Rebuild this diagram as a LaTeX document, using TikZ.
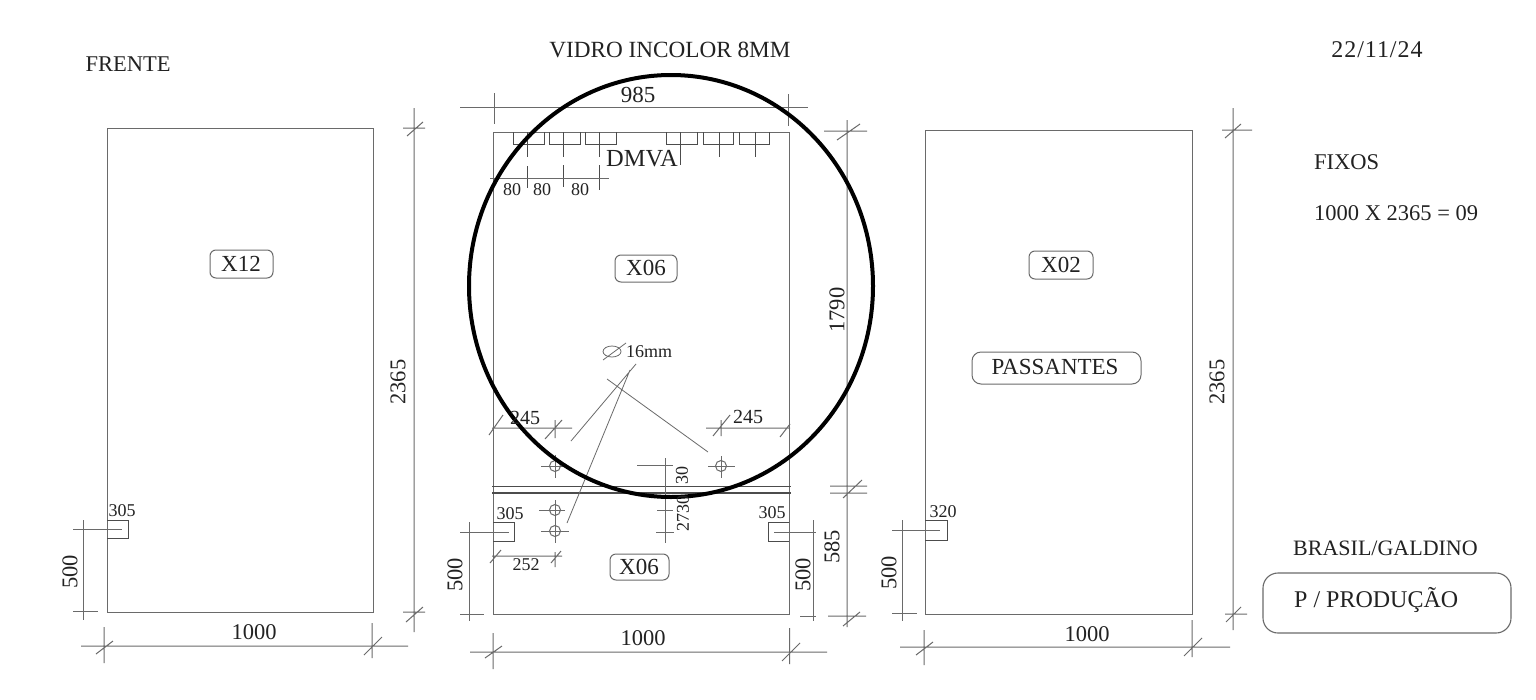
\documentclass[tikz,border=0pt]{standalone}
\usepackage{fontspec}
\setmainfont{Liberation Serif}
\newfontfamily\widefont[LetterSpace=4.0]{Liberation Serif}
\definecolor{ln}{HTML}{6A6A6A}
\definecolor{tx}{HTML}{222222}
\newcommand{\fs}[1]{\fontsize{#1}{#1}\selectfont}
\tikzset{
  x=1pt,y=-1pt,
  ln/.style={draw=ln,line width=1pt},
  thin dim/.style={draw=ln,line width=0.8pt},
  dark/.style={draw=black!70,line width=0.8pt},
  panel/.style={draw=ln,line width=1pt},
  lbl/.style={inner sep=0pt,text=tx,font=\fs{22.5}},
  mid/.style={inner sep=0pt,text=tx,font=\fs{20}},
  sm/.style={inner sep=0pt,text=tx,font=\fs{18}},
  tag/.style={draw=ln,line width=1pt,rounded corners=6pt,fill=white},
}
\begin{document}
\begin{tikzpicture}
\path[use as bounding box,fill=white] (0,0) rectangle (1536,699);
% panels
\draw[panel] (107,128) rectangle (373,612);
\draw[panel] (493,132) rectangle (789,614);
\draw[panel] (925,130) rectangle (1192,614);
% left panel dims
\draw[ln] (414,108)--(414,632) (403,128)--(425,128) (403,612)--(425,612) (407,136)--(423,122) (406,622)--(423,607);
\draw[ln] (81,646)--(408,646) (104,627)--(104,663) (372,623)--(372,658) (96,654)--(113,641) (364,655)--(382,637);
\draw[ln] (83,520)--(83,620) (73,529)--(122,529) (73,611)--(98,611);
\draw[dark] (107,520)--(128,520)--(128,538)--(107,538);
% middle top
\draw[ln] (460,107)--(808,107) (494,93)--(494,124) (788,94)--(788,126);
\draw[dark] (513,132)--(513,144)--(544,144)--(544,132) (549,132)--(549,144)--(580,144)--(580,132) (585,132)--(585,144)--(616,144)--(616,132)
 (666,132)--(666,144)--(697,144)--(697,132) (703,132)--(703,144)--(733,144)--(733,132) (739,132)--(739,144)--(769,144)--(769,132);
\draw[dark] (527,132)--(527,157) (563,132)--(563,157) (599,132)--(599,157) (680,132)--(680,165) (719,132)--(719,157) (755,132)--(755,157);
\draw[dark] (527,166)--(527,188) (563,165)--(563,187) (599,165)--(599,190);
\draw[ln] (490,178)--(609,178);
% separators
\draw[dark,line width=1.1pt] (492,486.5)--(791,486.5) (492,493)--(791,493);
% right dim of middle
\draw[ln] (847,120)--(847,627) (824,131)--(867,131) (837,140)--(860,124) (830,486)--(867,486) (830,493)--(867,493) (843,498)--(862,480) (828,616)--(866,616) (843,626)--(860,612);
\draw[ln] (813,520)--(813,621) (774,532)--(816,532) (800,616)--(816,616);
\draw[dark] (789,522)--(768,522)--(768,541)--(789,541);
\draw[dark] (493,522)--(514,522)--(514,541)--(493,541);
\draw[ln] (469,522)--(469,621) (460,532)--(509,532) (460,614)--(484,614);
% holes
\foreach \cx/\cy/\hl/\hr/\vt/\vb in {555/466/541/569/455/478, 721/466/708/735/456/478, 555/510/539/565/500/520, 555/531/541/569/520/543}{
  \draw[ln] (\cx,\cy) circle[radius=5.5];
  \draw[ln] (\hl,\cy)--(\hr,\cy) (\cx,\vt)--(\cx,\vb);
}
% 245, 252
\draw[ln] (492,428)--(572,428) (489,435)--(503,415) (545,439)--(562,420) (555,420)--(555,438);
\draw[ln] (706,428)--(790,428) (721,420)--(721,436) (713,436)--(730,415) (780,437)--(790,424);
\draw[ln] (492,556)--(562,556) (490,563)--(501,550) (551,563)--(561,551) (555,552)--(555,567);
% leaders
\draw[thin dim] (636,364)--(571,441) (630,370)--(567,523) (607,379)--(708,452);
\draw[thin dim] (603,360)--(626,343);
\draw[thin dim] (612,351.5) ellipse[x radius=9,y radius=5.5];
% center dim
\draw[ln] (665.5,458)--(665.5,543) (637,465)--(673,465) (657,510)--(673,510) (656,532)--(674,532);
% bottom dim of middle
\draw[ln] (470,652)--(827,652) (493,633)--(493,669) (789.5,628)--(789.5,664) (485,658)--(502,646) (782,661)--(800,643);
% right panel dims
\draw[ln] (1233,108)--(1233,630) (1222,130)--(1252,130) (1225,614)--(1247,614) (1225,138)--(1241,124) (1226,622)--(1241,607);
\draw[ln] (900,647)--(1230,647) (924,630)--(924,665) (1192,620)--(1192,657) (916,655)--(933,642) (1184,656)--(1202,638);
\draw[ln] (902,520)--(902,621) (892,530)--(940,530) (892,613)--(917,613);
\draw[dark] (925,520)--(947,520)--(947,540)--(925,540);
% big circle
\draw[black,line width=4pt] (671,286) ellipse[x radius=202,y radius=211];
% text
\node[lbl] (frente) at (128,64) {FRENTE};
\node[lbl,font=\fs{23.2}] (vidro) at (670,50) {VIDRO INCOLOR 8MM};
\node[lbl,font=\fs{24}\widefont] (date) at (1377,50) {22/11/24};
\node[lbl,anchor=west] (fixos) at (1314,162) {FIXOS};
\node[lbl,anchor=west] (qty) at (1314,213) {1000 X 2365 = 09};
\node[lbl,anchor=west,font=\fs{22}] (cli) at (1293,548) {BRASIL/GALDINO};
\draw[draw=ln,line width=1.1pt,rounded corners=15pt] (1263,573) rectangle (1511,633);
\node[lbl,anchor=west,font=\fs{24}] (prod) at (1294,600) {P / PRODUÇÃO};
\draw[tag] (210,250) rectangle (273,278);
\node[lbl,font=\fs{23}] (x12) at (241,264) {X12};
\draw[tag] (615,255) rectangle (677,282);
\node[lbl,font=\fs{23}] (x06a) at (646,268) {X06};
\draw[tag] (610,554) rectangle (669,580);
\node[lbl,font=\fs{23}] (x06b) at (639,567) {X06};
\draw[tag] (1029,251) rectangle (1093,279);
\node[lbl,font=\fs{23}] (x02) at (1061,265) {X02};
\draw[tag,rounded corners=9pt] (972,352) rectangle (1141,384);
\node[lbl,font=\fs{23}] (pass) at (1055,367) {PASSANTES};
\node[lbl,font=\fs{23}] (d985) at (638,95) {985};
\node[lbl,font=\fs{24.5}] (dmva) at (642,159) {DMVA};
\node[sm] (e1) at (512,190) {80};
\node[sm] (e2) at (542,190) {80};
\node[sm] (e3) at (580,190) {80};
\node[sm] (d16) at (649,352) {16mm};
\node[mid] (a1) at (525,418) {245};
\node[mid] (a2) at (748,417) {245};
\node[sm] (b1) at (526,565) {252};
\node[sm] (c1) at (510,514) {305};
\node[sm] (c2) at (772,513) {305};
\node[sm] (c3) at (122,511) {305};
\node[sm] (c4) at (943,512) {320};
\node[sm,rotate=90] (v30) at (682,475) {30};
\node[sm,rotate=90] (v27) at (683,513) {2730};
\node[lbl] (w1) at (254,632) {1000};
\node[lbl] (w2) at (643,638) {1000};
\node[lbl] (w3) at (1087,634) {1000};
\node[lbl,rotate=90] (h1) at (398,382) {2365};
\node[lbl,rotate=90] (h2) at (1217,382) {2365};
\node[lbl,rotate=90] (h3) at (837,310) {1790};
\node[lbl,rotate=90] (h4) at (832,547) {585};
\node[lbl,rotate=90] (h5) at (803,575) {500};
\node[lbl,rotate=90] (h6) at (455,575) {500};
\node[lbl,rotate=90] (h7) at (70,572) {500};
\node[lbl,rotate=90] (h8) at (889,573) {500};
\end{tikzpicture}
\end{document}
